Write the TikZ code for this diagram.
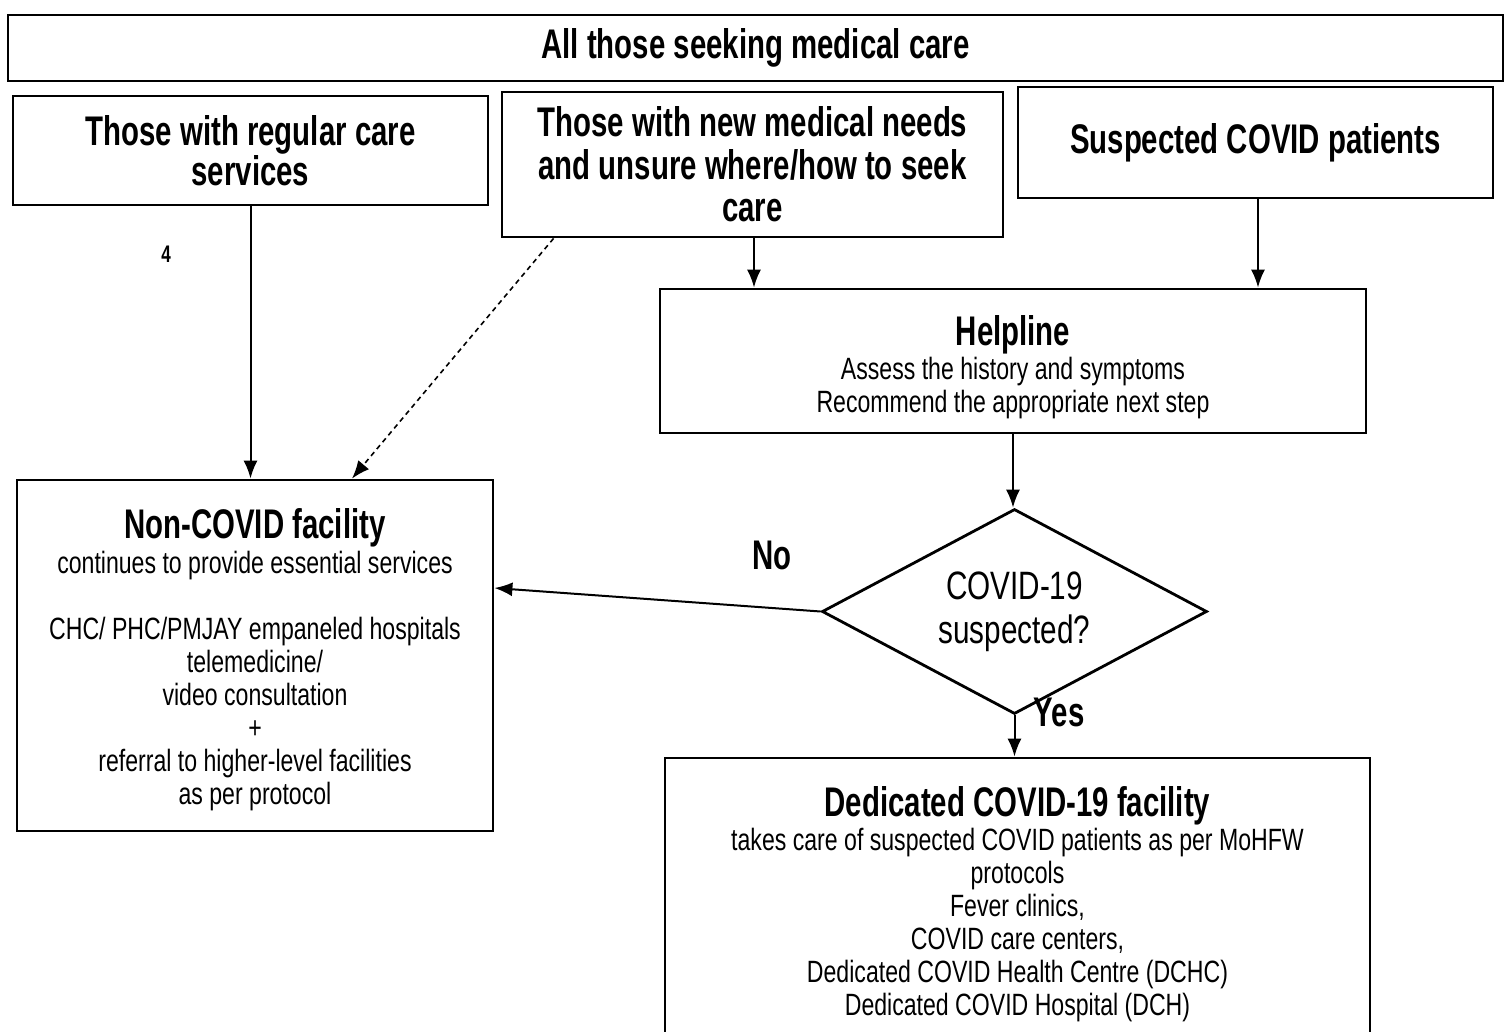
\documentclass[tikz,border=0pt]{standalone}
\usepackage{fontspec}
\setmainfont{Liberation Sans}[FakeStretch=0.75]
\newfontfamily\hdfam{Liberation Sans}[FakeStretch=0.71]
\usetikzlibrary{arrows.meta,shapes.geometric}
\newcommand\myhd{\hdfam\fontsize{20.7pt}{19.5pt}\selectfont\bfseries}
\newcommand\mybd{\fontsize{15.4pt}{16.5pt}\selectfont}
\newcommand\mydia{\fontsize{19.8pt}{22pt}\selectfont}
\begin{document}
\begin{tikzpicture}[x=0.5pt,y=-0.5pt,
  box/.style={draw, line width=1.4pt, align=center, inner sep=0pt},
  conn/.style={line width=1pt, -{Latex[length=9pt,width=7pt]}},
  lbl/.style={font=\myhd, inner sep=0pt}]
\clip (0,0) rectangle (1511,1032);
\fill[white] (0,0) rectangle (1511,1032);

\node[box, minimum width=747.5pt, minimum height=33pt, font=\myhd] (top) at (755.5,48) {All those seeking medical care};

\node[box, minimum width=237.5pt, minimum height=54.5pt, font={\hdfam\fontsize{20.7pt}{20pt}\selectfont\bfseries}] (regular) at (250.5,150.5) {Those with regular care\\services};

\node[box, minimum width=250.5pt, minimum height=72.5pt, font={\hdfam\fontsize{20.7pt}{21.25pt}\selectfont\bfseries}] (newneeds) at (752.5,164.5) {Those with new medical needs\\and unsure where/how to seek\\care};

\node[box, minimum width=237.5pt, minimum height=55.5pt, font=\myhd] (suspected) at (1255.5,142.5) {Suspected COVID patients};

\node[box, minimum width=353pt, minimum height=72pt, font=\mybd] (help) at (1013,361)
  {{\myhd\rule{0pt}{21pt}Helpline}\\[0.5pt]Assess the history and symptoms\\Recommend the appropriate next step};

\node[draw, line width=1.4pt, shape=diamond, aspect=1.878, inner sep=0pt, minimum width=192.5pt, minimum height=102.5pt, align=center, font=\mydia] (dia) at (1014.5,611.5) {COVID-19\\suspected?};

\node[box, minimum width=238pt, minimum height=175.5pt, font=\mybd] (nonc) at (255,655.5)
  {{\myhd\rule{0pt}{19pt}Non-COVID facility}\\[1pt]continues to provide essential services\\[16.5pt]
   CHC/ PHC/PMJAY empaneled hospitals\\telemedicine/\\video consultation\\+\\referral to higher-level facilities\\as per protocol};

\node[box, minimum width=352.5pt, minimum height=143pt, font=\mybd] (ded) at (1017.5,901)
  {{\myhd\rule{0pt}{18pt}Dedicated COVID-19 facility}\\[0.5pt]takes care of suspected COVID patients as per MoHFW\\protocols\\Fever clinics,\\COVID care centers,\\Dedicated COVID Health Centre (DCHC)\\Dedicated COVID Hospital (DCH)};

\node[lbl, font={\hdfam\fontsize{12pt}{12pt}\selectfont\bfseries}] (four) at (166,254) {4};
\node[lbl] (no) at (772,555) {No};
\node[lbl] (yes) at (1059,712) {Yes};

\draw[conn] (regular.south) -- (regular.south |- nonc.north);
\draw[line width=0.8pt, dash pattern=on 2.5pt off 2pt, -{Latex[length=9pt,width=7pt]}]
  ([xshift=26.5pt]newneeds.south west) -- ([xshift=48.5pt]nonc.north);
\draw[conn] ([xshift=0.75pt]newneeds.south) -- ([xshift=0.75pt]newneeds.south |- help.north);
\draw[conn] ([xshift=1.25pt]suspected.south) -- ([xshift=1.25pt]suspected.south |- help.north);
\draw[conn] (help.south) -- (help.south |- dia.north);
\draw[conn] (dia.west) -- ([yshift=33.75pt]nonc.east);
\draw[conn] (dia.south) -- (dia.south |- ded.north);
\end{tikzpicture}
\end{document}
